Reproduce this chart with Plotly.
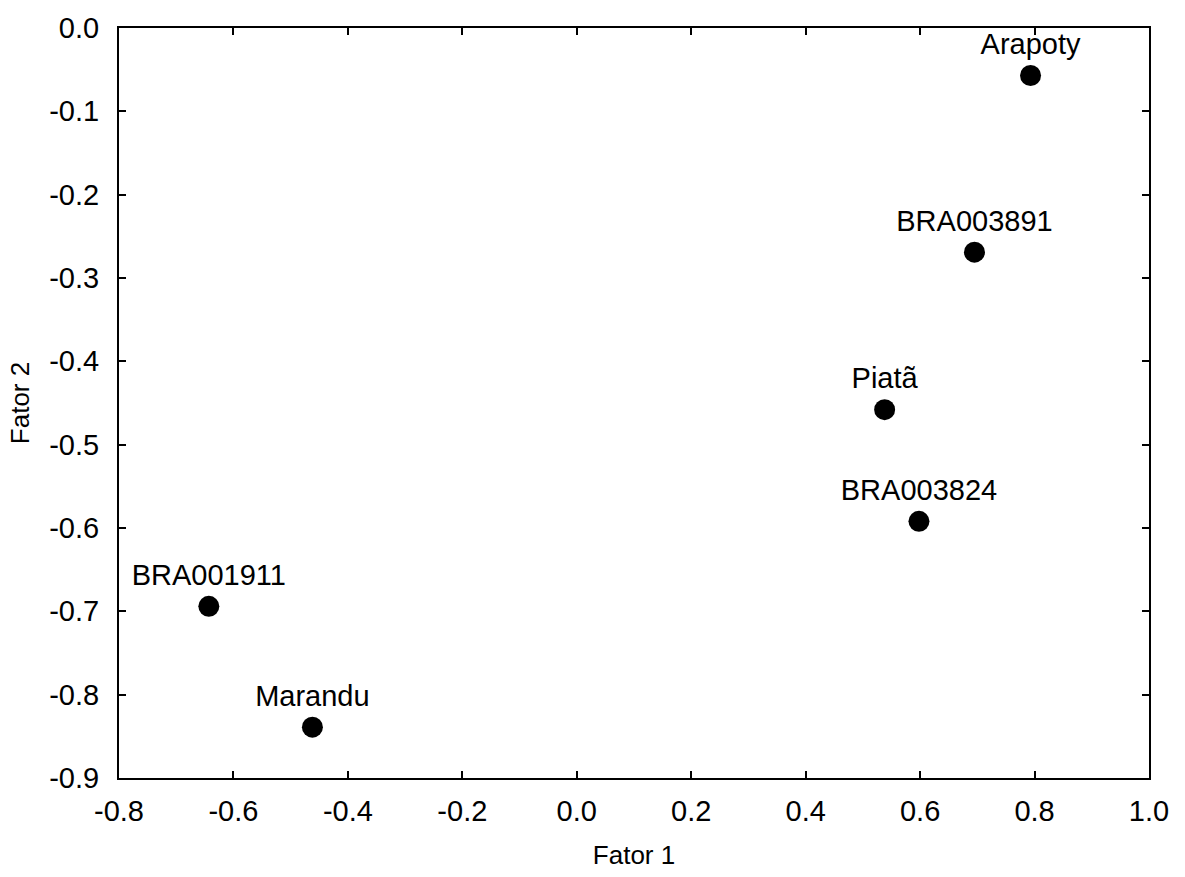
import plotly.graph_objects as go

# Factor scores for each cultivar / accession
names = ["Arapoty", "BRA003891", "Piatã", "BRA003824", "BRA001911", "Marandu"]
fator1 = [0.793, 0.695, 0.538, 0.598, -0.643, -0.462]
fator2 = [-0.057, -0.269, -0.458, -0.592, -0.694, -0.839]

x_ticks = [-0.8, -0.6, -0.4, -0.2, 0.0, 0.2, 0.4, 0.6, 0.8, 1.0]
y_ticks = [0.0, -0.1, -0.2, -0.3, -0.4, -0.5, -0.6, -0.7, -0.8, -0.9]

FONT = "Arial, Liberation Sans, sans-serif"

fig = go.Figure(
    go.Scatter(
        x=fator1,
        y=fator2,
        mode="markers+text",
        text=names,
        textposition="top center",
        textfont=dict(family=FONT, size=29, color="black"),
        marker=dict(size=21, color="black"),
        cliponaxis=False,
        showlegend=False,
    )
)

axis_common = dict(
    showline=True,
    linecolor="black",
    linewidth=2,
    mirror="ticks",
    ticks="inside",
    ticklen=7,
    tickwidth=2,
    tickcolor="black",
    showgrid=False,
    zeroline=False,
    tickfont=dict(family=FONT, size=29, color="black"),
)

fig.update_xaxes(
    range=[-0.8, 1.0],
    tickvals=x_ticks,
    ticktext=[f"{v:.1f}" for v in x_ticks],
    title=dict(text="Fator 1", font=dict(family=FONT, size=26, color="black"), standoff=20),
    ticklabelstandoff=6,
    **axis_common,
)
fig.update_yaxes(
    range=[-0.9, 0.0],
    tickvals=y_ticks,
    ticktext=[f"{v:.1f}" for v in y_ticks],
    title=dict(text="Fator 2", font=dict(family=FONT, size=26, color="black"), standoff=12),
    ticklabelstandoff=12,
    **axis_common,
)

fig.update_layout(
    width=1185,
    height=877,
    margin=dict(l=119, r=36, t=21, b=96),
    plot_bgcolor="white",
    paper_bgcolor="white",
)

fig.write_html("out.html")
